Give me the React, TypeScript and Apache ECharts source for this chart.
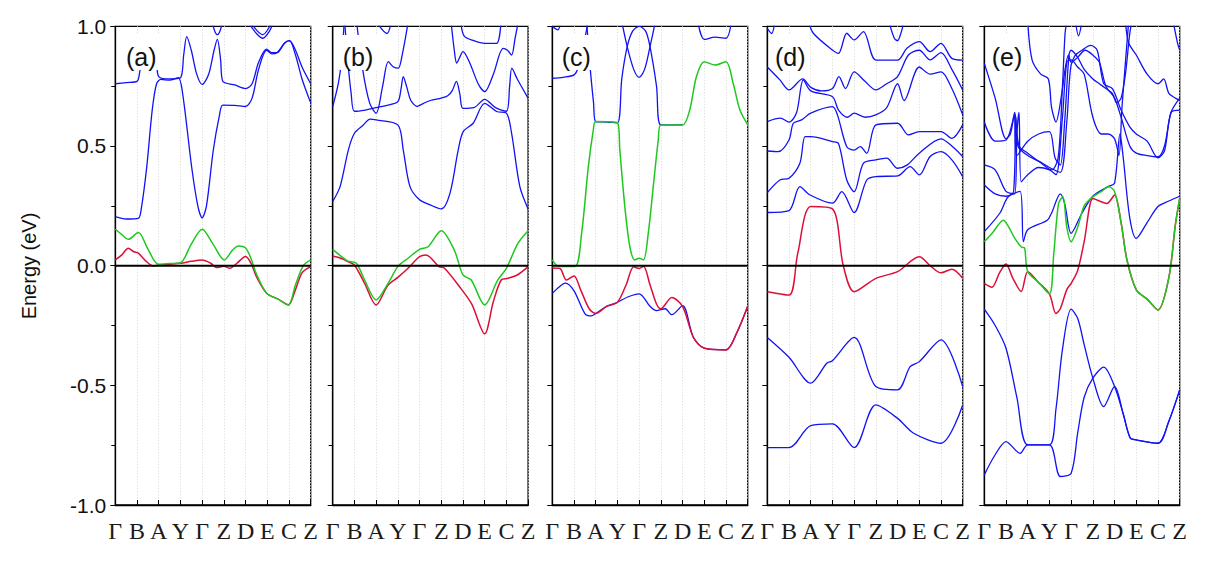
import React, { useEffect, useRef } from 'react';
import * as echarts from 'echarts';

// High-symmetry path labels along each panel's k axis
const kLabels = ['Γ', 'B', 'A', 'Y', 'Γ', 'Z', 'D', 'E', 'C', 'Z'];
const panelTags = ['(a)', '(b)', '(c)', '(d)', '(e)'];

// ---- Panel (a) ----
const aBlue1 = [[0,0.205],[0.5,0.195],[1.06,0.198],[1.2,0.24],[1.45,0.414],[1.7,0.65],[1.9,0.76],[2.1,0.778],[2.5,0.775],[2.9,0.785],[3.1,0.72],[3.52,0.41],[3.8,0.25],[4,0.2],[4.2,0.25],[4.51,0.48],[4.8,0.63],[4.95,0.671],[5.5,0.67],[6,0.665],[6.3,0.7],[6.6,0.82],[6.97,0.9],[7.2,0.885],[7.45,0.89],[7.8,0.93],[8.02,0.94],[8.3,0.88],[8.6,0.78],[9,0.68]];
const aBlue2 = [[0,0.76],[0.5,0.765],[1,0.77],[1.15,0.82],[1.35,0.87],[1.7,0.88],[1.9,0.84],[2,0.79],[2.5,0.78],[3,0.785],[3.15,0.88],[3.29,0.957],[3.5,0.9],[3.75,0.8],[4,0.757],[4.3,0.8],[4.55,0.9],[4.7,0.945],[4.85,0.86],[4.95,0.77],[5.5,0.755],[6,0.74],[6.3,0.76],[6.6,0.85],[6.97,0.905],[7.2,0.89],[7.45,0.89],[7.8,0.93],[8.02,0.94],[8.3,0.9],[8.6,0.83],[9,0.76]];
const aBlue3 = [[4.45,1.02],[4.6,0.975],[4.7,0.965],[4.8,0.975],[4.95,1.02]];
const aBlue4 = [[6.1,1.02],[6.5,0.97],[6.8,0.95],[7.1,0.98],[7.3,1.02]];
const aBlue5 = [[6.2,1.02],[6.55,0.98],[6.8,0.965],[7.05,0.99],[7.2,1.02]];
const aRed = [[0,0.024],[0.3,0.045],[0.6,0.073],[0.85,0.058],[1.06,0.052],[1.4,0.02],[1.75,-0.001],[2,0.002],[2.5,0.006],[3,0.01],[3.5,0.018],[4,0.024],[4.4,0.01],[4.67,-0.008],[5,-0.003],[5.28,-0.011],[5.6,0.01],[6,0.038],[6.25,0.01],[6.5,-0.046],[6.97,-0.115],[7.5,-0.14],[7.97,-0.164],[8.3,-0.1],[8.6,-0.03],[9,-0.004]];
const aGreen = [[0,0.152],[0.3,0.13],[0.6,0.11],[1.06,0.138],[1.5,0.07],[1.98,0.006],[2.5,0.009],[3,0.012],[3.5,0.09],[4,0.152],[4.5,0.09],[5.02,0.024],[5.4,0.065],[5.67,0.082],[6,0.074],[6.25,0.03],[6.5,-0.035],[6.97,-0.115],[7.5,-0.14],[7.97,-0.164],[8.3,-0.08],[8.66,0.0],[9,0.024]];

// ---- Panel (b) ----
const bBlue1 = [[0,0.268],[0.34,0.33],[0.72,0.483],[1,0.553],[1.41,0.588],[1.72,0.612],[2,0.609],[3,0.588],[3.25,0.483],[3.56,0.33],[4,0.275],[4.48,0.254],[5,0.237],[5.4,0.302],[5.78,0.483],[6.01,0.56],[6.47,0.595],[7,0.678],[7.55,0.644],[8,0.637],[8.24,0.553],[8.62,0.33],[9,0.237]];
const bBlue2 = [[0,0.665],[0.26,0.762],[0.41,0.859],[0.52,1.0],[0.56,1.03]];
const bBlue3 = [[0.55,1.02],[0.7,0.85],[0.85,0.72],[1,0.645],[1.5,0.65],[2,0.66],[2.5,0.67],[3,0.685],[3.15,0.74],[3.25,0.79],[3.4,0.75],[3.6,0.69],[3.9,0.665],[4,0.67],[4.5,0.69],[5,0.7],[5.3,0.71],[5.5,0.73],[5.7,0.77],[5.85,0.72],[6,0.657],[6.5,0.66],[7,0.695],[7.5,0.66],[8,0.645],[8.15,0.75],[8.25,0.825],[8.5,0.78],[9,0.7]];
const bBlue4 = [[1.1,1.02],[1.38,0.82],[1.7,0.68],[2,0.637],[2.3,0.75],[2.56,0.852],[2.8,0.83],[3.02,0.825],[3.2,0.88],[3.48,1.02]];
const bBlue5 = [[2,1.02],[2.5,0.97],[2.7,1.02]];
const bBlue6 = [[5.45,1.02],[5.6,0.9],[5.71,0.846],[5.85,0.87],[6,0.894],[6.3,0.85],[6.7,0.76],[7,0.727],[7.4,0.8],[7.85,0.908],[8.05,0.9],[8.24,0.88],[8.4,0.95],[8.55,1.02]];
const bBlue7 = [[5.9,1.02],[6.05,0.96],[6.5,0.94],[7,0.929],[7.55,0.929],[7.75,1.02]];
const bRed = [[0,0.04],[0.4,0.03],[0.7,0.017],[1,0.003],[1.47,-0.074],[2,-0.164],[2.55,-0.081],[3,-0.049],[3.47,-0.011],[4,0.038],[4.3,0.045],[4.9,-0.004],[5.15,-0.011],[5.9,-0.095],[6.4,-0.16],[7,-0.285],[7.4,-0.15],[7.76,-0.06],[8.07,-0.053],[8.5,-0.039],[9,-0.004]];
const bGreen = [[0,0.068],[0.4,0.038],[0.7,0.019],[1.09,0.01],[1.47,-0.06],[2,-0.143],[2.55,-0.074],[3,-0.004],[3.47,0.031],[4,0.068],[4.39,0.079],[5,0.146],[5.6,0.065],[6,-0.039],[6.38,-0.06],[7,-0.164],[7.6,-0.06],[8,-0.011],[8.53,0.093],[9,0.146]];

// ---- Panel (c) ----
const cBlue1 = [[0,0.783],[0.5,0.787],[1,0.797],[1.2,0.83],[1.5,0.95],[1.65,1.02]];
const cBlue2 = [[1.58,1.02],[1.75,0.82],[1.9,0.68],[2,0.602],[2.5,0.6],[3,0.597],[3.2,0.78],[3.45,0.915],[3.7,0.98],[4,1.0],[4.3,0.98],[4.5,0.915],[4.8,0.75],[5,0.588],[6,0.588]];
const cBlue3 = [[3.2,1.02],[3.45,0.915],[3.75,0.82],[4,0.787],[4.25,0.82],[4.5,0.915],[4.75,1.02]];
const cBlue4 = [[6.7,1.02],[7,0.945],[7.5,0.955],[8,0.95],[8.25,1.02]];
const cBlue5 = [[0,1.0],[0.25,0.985],[0.4,1.02]];
const cBlue6 = [[0,-0.116],[0.3,-0.09],[0.6,-0.073],[1,-0.105],[1.5,-0.2],[1.8,-0.21],[2,-0.2],[2.5,-0.17],[3,-0.153],[3.5,-0.13],[4,-0.118],[4.5,-0.17],[4.8,-0.188],[5.2,-0.18],[5.5,-0.205],[6,-0.167],[6.5,-0.3],[7,-0.345],[8,-0.352],[8.5,-0.28],[9,-0.17]];
const cRed = [[0,-0.01],[0.35,-0.012],[0.65,-0.06],[1,-0.043],[1.3,-0.1],[1.7,-0.18],[2,-0.2],[2.5,-0.17],[3,-0.153],[3.4,-0.08],[3.75,-0.005],[4,-0.012],[4.2,-0.003],[4.5,-0.08],[4.8,-0.16],[5,-0.18],[5.5,-0.133],[6,-0.17],[6.5,-0.3],[7,-0.345],[8,-0.352],[8.5,-0.28],[9,-0.17]];
const cGreen = [[0,0.024],[0.3,-0.004],[1.04,-0.004],[1.35,0.135],[1.66,0.414],[1.89,0.567],[2,0.602],[3,0.597],[3.11,0.483],[3.34,0.247],[3.57,0.08],[3.8,0.024],[4,0.031],[4.2,0.024],[4.42,0.135],[4.65,0.33],[4.88,0.525],[5,0.588],[6,0.588],[6.33,0.651],[6.64,0.79],[7,0.852],[7.5,0.838],[8,0.852],[8.33,0.762],[8.64,0.651],[9,0.588]];

// ---- Panel (d) ----
const dBlue1 = [[0,0.222],[1,0.23],[1.5,0.33],[1.97,0.295],[3,0.261],[3.43,0.309],[4,0.222],[4.58,0.358],[5,0.372],[6,0.375],[6.58,0.414],[7,0.379],[7.5,0.456],[8,0.476],[8.5,0.442],[9,0.372]];
const dBlue2 = [[0,0.305],[0.58,0.358],[1,0.365],[1.5,0.428],[1.74,0.539],[2,0.539],[3,0.518],[3.28,0.51],[3.66,0.358],[4,0.309],[4.43,0.428],[5,0.442],[5.5,0.449],[6,0.407],[6.43,0.42],[7,0.47],[8,0.53],[8.5,0.5],[9,0.456]];
const dBlue3 = [[0,0.479],[0.5,0.476],[1,0.525],[1.2,0.595],[1.58,0.609],[2,0.637],[3,0.664],[3.23,0.63],[3.66,0.497],[4,0.483],[4.28,0.497],[4.58,0.469],[5,0.588],[6,0.595],[6.5,0.546],[7,0.56],[8,0.56],[8.5,0.532],[9,0.588]];
const dBlue4 = [[0,0.602],[0.6,0.616],[1,0.6],[1.35,0.64],[1.66,0.776],[2,0.73],[3,0.706],[3.28,0.65],[3.7,0.62],[4,0.637],[4.5,0.62],[5,0.63],[5.5,0.66],[6,0.76],[6.3,0.69],[7,0.83],[7.5,0.8],[8,0.81],[8.5,0.74],[9,0.63]];
const dBlue5 = [[0,0.83],[0.58,0.776],[1,0.734],[1.63,0.78],[2,0.745],[2.5,0.73],[3,0.74],[3.3,0.79],[3.6,0.74],[4,0.81],[4.5,0.77],[5,0.734],[5.5,0.76],[6,0.79],[6.5,0.88],[7,0.9],[7.5,0.86],[8,0.89],[8.5,0.82],[9,0.734]];
const dBlue6 = [[1.9,1.02],[2.12,0.971],[3,0.901],[3.28,0.887],[3.66,0.971],[4,0.943],[4.43,0.978],[5,0.859],[6,0.859],[6.43,0.908],[7,0.936],[7.5,0.894],[8,0.929],[8.5,0.866],[9,0.859]];
const dBlue7 = [[0,0.99],[0.2,0.97],[0.35,1.02]];
const dBlue8 = [[5.6,1.02],[5.85,0.95],[6,0.94],[6.15,0.97],[6.3,1.02]];
const dBlue9 = [[0,-0.3],[1,-0.383],[2,-0.491],[2.74,-0.408],[3,-0.397],[4,-0.3],[5,-0.505],[6,-0.519],[6.58,-0.422],[7,-0.401],[8,-0.31],[9,-0.505]];
const dBlue10 = [[0,-0.76],[1,-0.76],[2,-0.668],[3,-0.661],[4,-0.76],[5,-0.582],[6,-0.638],[6.74,-0.7],[8,-0.742],[9,-0.582]];
const dRed = [[0,-0.109],[1,-0.123],[1.4,0.05],[2,0.247],[3,0.237],[3.5,0.0],[4,-0.109],[5,-0.053],[6,-0.025],[7,0.037],[7.5,0.0],[8,-0.03],[8.5,-0.015],[9,-0.053]];

// ---- Panel (e) ----
const eBlue1 = [[0,0.142],[0.72,0.22],[1.1,0.288],[1.65,0.31],[1.8,0.1],[2,0.15],[2.9,0.19],[3.1,0.22],[3.5,0.3],[3.7,0.26],[4,0.135],[4.5,0.22],[5,0.29],[5.7,0.33],[6,0.345],[6.25,0.55],[6.4,0.45],[6.7,0.2],[7,0.114],[7.5,0.18],[8,0.247],[8.5,0.27],[9,0.29]];
const eBlue2 = [[0,0.337],[0.5,0.3],[1,0.29],[1.35,0.31],[1.45,0.62],[1.55,0.5],[2,0.46],[2.65,0.43],[3,0.41],[3.5,0.39],[3.8,0.6],[4,0.84],[4.3,0.87],[4.65,0.9],[5,0.88],[5.3,0.85],[5.6,0.75],[6,0.7],[6.3,0.62],[6.7,0.5],[7,0.47],[7.5,0.46],[8,0.455],[8.3,0.5],[8.6,0.64],[9,0.7]];
const eBlue3 = [[0,0.421],[0.5,0.4],[1,0.31],[1.4,0.3],[1.5,0.55],[1.6,0.64],[1.7,0.35],[2,0.38],[2.5,0.41],[3,0.4],[3.3,0.38],[3.6,0.62],[3.8,0.85],[4,0.86],[4.3,0.83],[4.6,0.8],[5,0.62],[5.4,0.55],[5.7,0.55],[6,0.53],[6.2,0.46],[6.34,0.66],[6.5,0.85],[6.65,1.02]];
const eBlue4 = [[0,0.6],[0.5,0.52],[1,0.525],[1.3,0.6],[1.4,0.64],[1.6,0.5],[2,0.47],[2.6,0.43],[3.1,0.4],[3.4,0.45],[3.6,0.75],[3.72,0.97],[3.8,1.02]];
const eBlue5 = [[0,0.845],[0.5,0.7],[1,0.53],[1.2,0.55],[1.38,0.63],[1.5,0.46],[2,0.52],[2.5,0.55],[3,0.56],[3.26,0.45],[3.5,0.42],[3.7,0.6],[3.9,0.88],[4,0.9],[4.3,0.87],[4.6,0.82],[5,0.78],[5.3,0.76],[5.6,0.74],[5.9,0.72],[6.1,0.68],[6.3,0.7],[6.5,0.8],[6.7,0.97],[6.8,1.02]];
const eBlue6 = [[2,1.02],[2.2,0.86],[2.6,0.8],[2.95,0.78],[3.1,0.66],[3.3,0.6],[3.57,0.72],[3.72,0.82],[3.88,0.88],[4,0.85],[4.2,0.88],[4.5,0.9],[4.9,0.92],[5.2,0.9],[5.5,0.76],[5.9,0.74],[6.3,0.65],[6.7,0.58],[7,0.55],[7.5,0.52],[8,0.45],[8.3,0.48],[8.6,0.64],[9,0.65]];
const eBlue7 = [[6.5,1.02],[6.65,0.93],[7,0.88],[7.5,0.8],[8,0.76],[8.26,0.78],[8.5,0.72],[8.8,0.7],[9,0.69]];
const eBlue8 = [[8.7,1.02],[8.9,0.93],[9,0.9]];
const eBlue9 = [[4.2,1.02],[4.34,0.96],[4.5,1.02]];
const eBlue10 = [[0,-0.182],[0.5,-0.25],[1,-0.345],[1.5,-0.55],[2,-0.749],[3,-0.749],[3.3,-0.6],[3.6,-0.35],[4,-0.182],[4.3,-0.22],[4.6,-0.33],[5,-0.47],[5.5,-0.589],[6,-0.505],[6.4,-0.62],[6.72,-0.72],[7,-0.728],[8,-0.742],[8.5,-0.65],[9,-0.519]];
const eBlue11 = [[0,-0.874],[0.5,-0.79],[1,-0.735],[1.65,-0.784],[2,-0.749],[3,-0.749],[3.5,-0.881],[4,-0.867],[4.3,-0.7],[4.6,-0.55],[5,-0.47],[5.5,-0.424],[6,-0.505],[6.4,-0.62],[6.72,-0.72],[7,-0.728],[8,-0.742],[8.5,-0.65],[9,-0.519]];
const eRed = [[0,-0.074],[0.35,-0.09],[0.7,-0.03],[1,0.007],[1.3,-0.05],[1.7,-0.108],[2,-0.025],[2.5,-0.07],[3,-0.118],[3.3,-0.2],[3.5,-0.18],[3.8,-0.1],[4,-0.074],[4.3,-0.02],[4.6,0.1],[5,0.281],[5.3,0.27],[5.65,0.26],[6,0.295],[6.3,0.18],[6.57,0.024],[7,-0.101],[7.5,-0.14],[8,-0.185],[8.5,-0.05],[8.8,0.17],[9,0.281]];
const eGreen = [[0,0.1],[0.4,0.14],[0.88,0.19],[1.1,0.165],[1.4,0.115],[1.72,0.077],[1.85,0.075],[2,-0.025],[2.5,-0.07],[3,-0.118],[3.2,0.05],[3.42,0.26],[3.62,0.288],[3.8,0.16],[4,0.1],[4.3,0.16],[4.6,0.25],[5,0.288],[5.4,0.31],[5.72,0.33],[6,0.31],[6.3,0.18],[6.57,0.024],[7,-0.101],[7.5,-0.14],[8,-0.185],[8.5,-0.05],[8.8,0.17],[9,0.281]];

const panels = [
  { blue: [aBlue1, aBlue2, aBlue3, aBlue4, aBlue5], red: [aRed], green: [aGreen] },
  { blue: [bBlue1, bBlue2, bBlue3, bBlue4, bBlue5, bBlue6, bBlue7], red: [bRed], green: [bGreen] },
  { blue: [cBlue1, cBlue2, cBlue3, cBlue4, cBlue5, cBlue6], red: [cRed], green: [cGreen] },
  { blue: [dBlue1, dBlue2, dBlue3, dBlue4, dBlue5, dBlue6, dBlue7, dBlue8, dBlue9, dBlue10], red: [dRed], green: [] },
  { blue: [eBlue1, eBlue2, eBlue3, eBlue4, eBlue5, eBlue6, eBlue7, eBlue8, eBlue9, eBlue10, eBlue11], red: [eRed], green: [eGreen] },
];

// layout of the five frames
const LEFTS = [115.3, 332.7, 552.3, 767.3, 984.3];
const TAG_OFFSETS = [10.7, 10, 9.4, 7.7, 7.4];
const PW = 195.4;
const TOP = 26.3;
const PH = 478.7;

const BLUE = '#1212f5';
const RED = '#dc0f38';
const GREEN = '#1fc81f';
const SANS = '"Liberation Sans", Arial, Helvetica, sans-serif';
const SERIF = '"Liberation Serif", "Times New Roman", serif';

export default function App() {
  const ref = useRef<HTMLDivElement>(null);

  useEffect(() => {
    const chart = echarts.init(ref.current as HTMLDivElement, null, { renderer: 'svg' });

    const grid: any[] = [];
    const xAxis: any[] = [];
    const yAxis: any[] = [];
    const series: any[] = [];
    const graphic: any[] = [];

    panels.forEach((p, i) => {
      grid.push({
        left: LEFTS[i], top: TOP, width: PW, height: PH,
        show: true, borderColor: '#000', borderWidth: 1.3, backgroundColor: '#fff',
        containLabel: false,
      });
      xAxis.push({
        type: 'value', gridIndex: i, min: 0, max: 9, interval: 1,
        axisLine: { show: true, onZero: false, lineStyle: { color: '#000', width: 1.3 } },
        axisTick: { show: true, inside: true, length: 5, lineStyle: { color: '#000', width: 1 } },
        axisLabel: {
          show: true, showMinLabel: true, showMaxLabel: true,
          formatter: (v: number) => kLabels[Math.round(v)] ?? '',
          fontFamily: SERIF, fontSize: 24, color: '#1a1a1a', margin: 14,
        },
        splitLine: { show: true, lineStyle: { color: '#d6d6d6', type: [1, 2], width: 1 } },
      });
      yAxis.push({
        type: 'value', gridIndex: i, min: -1, max: 1, interval: 0.5,
        axisLine: { show: true, onZero: false, lineStyle: { color: '#000', width: 1.3 } },
        axisTick: { show: true, inside: false, length: 5, lineStyle: { color: '#000', width: 1 } },
        minorTick: { show: true, splitNumber: 2, length: 4, lineStyle: { color: '#000', width: 1 } },
        axisLabel: {
          show: i === 0,
          formatter: (v: number) => v.toFixed(1),
          fontFamily: SANS, fontSize: 21, color: '#111', margin: 9,
        },
        splitLine: { show: false },
      });

      const add = (data: number[][], color: string, width: number, z: number) => {
        series.push({
          type: 'line', xAxisIndex: i, yAxisIndex: i, data,
          showSymbol: false, symbol: 'none', smooth: 0.3, silent: true,
          lineStyle: { color, width }, z, clip: true,
        });
      };
      p.blue.forEach((b) => add(b, BLUE, 1.3, 2));
      p.red.forEach((b) => add(b, RED, 1.5, 3));
      p.green.forEach((b) => add(b, GREEN, 1.5, 4));
      // Fermi level
      add([[0, 0], [9, 0]], '#000', 2, 6);

      const tx = LEFTS[i] + TAG_OFFSETS[i];
      graphic.push({
        type: 'rect', z: 50,
        shape: { x: tx - 3, y: 35, width: 38, height: 35 },
        style: { fill: '#fff' },
      });
      graphic.push({
        type: 'text', z: 51, x: tx, y: 57,
        style: {
          text: panelTags[i], fill: '#111', fontFamily: SANS, fontSize: 25,
          align: 'left', verticalAlign: 'middle',
        },
      });
    });

    graphic.push({
      type: 'text', z: 51, x: 29, y: 266, rotation: Math.PI / 2,
      style: {
        text: 'Energy (eV)', fill: '#111', fontFamily: SANS, fontSize: 20,
        align: 'center', verticalAlign: 'middle',
      },
    });

    chart.setOption({
      animation: false,
      backgroundColor: '#fff',
      grid, xAxis, yAxis, series, graphic,
    });

    return () => chart.dispose();
  }, []);

  return (
    <div
      ref={ref}
      style={{ position: 'fixed', left: 0, top: 0, width: 1211, height: 564, background: '#fff' }}
    />
  );
}
